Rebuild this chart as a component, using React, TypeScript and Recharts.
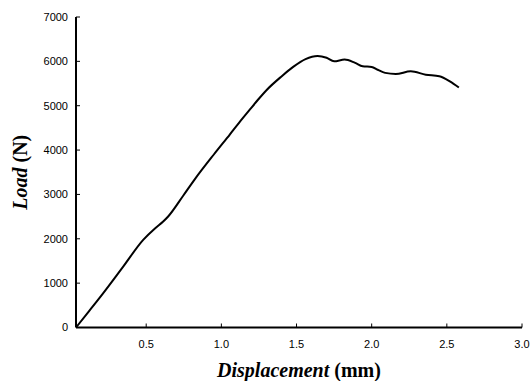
import { Line, LineChart, XAxis, YAxis } from "recharts";

// displacement (mm) and load (N)
const displacement = [
  0.033, 0.12, 0.204, 0.347, 0.48, 0.56, 0.613, 0.646, 0.746, 0.824, 0.95, 1.056, 1.12,
  1.189, 1.245, 1.3, 1.4, 1.48, 1.56, 1.64, 1.7, 1.75, 1.82, 1.89, 1.94, 2.0, 2.04, 2.09,
  2.16, 2.26, 2.36, 2.45, 2.52, 2.58,
];
const load = [
  0, 370, 730, 1373, 1976, 2240, 2389, 2502, 2970, 3345, 3900, 4350, 4625, 4910, 5140,
  5350, 5660, 5880, 6050, 6120, 6080, 6000, 6040, 5965, 5890, 5875, 5810, 5740, 5715,
  5775, 5700, 5665, 5550, 5410,
];
const xTicks = [0.5, 1.0, 1.5, 2.0, 2.5, 3.0];
const yTicks = [0, 1000, 2000, 3000, 4000, 5000, 6000, 7000];

const data = displacement.map((d, i) => ({ d, load: load[i] }));

const TICK = { fontSize: 11, fill: "#000", fontFamily: "Liberation Sans, Arial, sans-serif" };
const SERIF = "Liberation Serif, Times New Roman, serif";

function XTitle(props: any) {
  const vb = props.viewBox || {};
  return (
    <text
      x={vb.x + vb.width / 2}
      y={377}
      textAnchor="middle"
      fontFamily={SERIF}
      fontSize={20}
      fontWeight="bold"
      fill="#000"
    >
      <tspan fontStyle="italic">Displacement</tspan>
      <tspan> (mm)</tspan>
    </text>
  );
}

function YTitle(props: any) {
  const vb = props.viewBox || {};
  const cy = vb.y + vb.height / 2;
  return (
    <text
      x={27}
      y={cy}
      transform={`rotate(-90 27 ${cy})`}
      textAnchor="middle"
      fontFamily={SERIF}
      fontSize={20}
      fontWeight="bold"
      fill="#000"
    >
      <tspan fontStyle="italic">Load</tspan>
      <tspan> (N)</tspan>
    </text>
  );
}

export default function App() {
  return (
    <div style={{ position: "absolute", left: 0, top: 0, background: "#fff" }}>
      <LineChart
        width={531}
        height={381}
        data={data}
        margin={{ top: 17, right: 9, bottom: 0, left: 0 }}
      >
        <XAxis
          dataKey="d"
          type="number"
          domain={[0.033, 3]}
          ticks={xTicks}
          tickFormatter={(v: number) => v.toFixed(1)}
          tick={TICK}
          tickSize={-4}
          tickMargin={17}
          height={53.5}
          axisLine={{ stroke: "#000", strokeWidth: 2 }}
          tickLine={{ stroke: "#000", strokeWidth: 1 }}
          allowDataOverflow
          label={<XTitle />}
        />
        <YAxis
          type="number"
          domain={[0, 7000]}
          ticks={yTicks}
          tick={TICK}
          tickSize={-4}
          tickMargin={12}
          width={76}
          axisLine={{ stroke: "#000", strokeWidth: 2 }}
          tickLine={{ stroke: "#000", strokeWidth: 1 }}
          label={<YTitle />}
        />
        <Line
          dataKey="load"
          type="monotone"
          stroke="#000"
          strokeWidth={2}
          dot={false}
          isAnimationActive={false}
        />
      </LineChart>
    </div>
  );
}
